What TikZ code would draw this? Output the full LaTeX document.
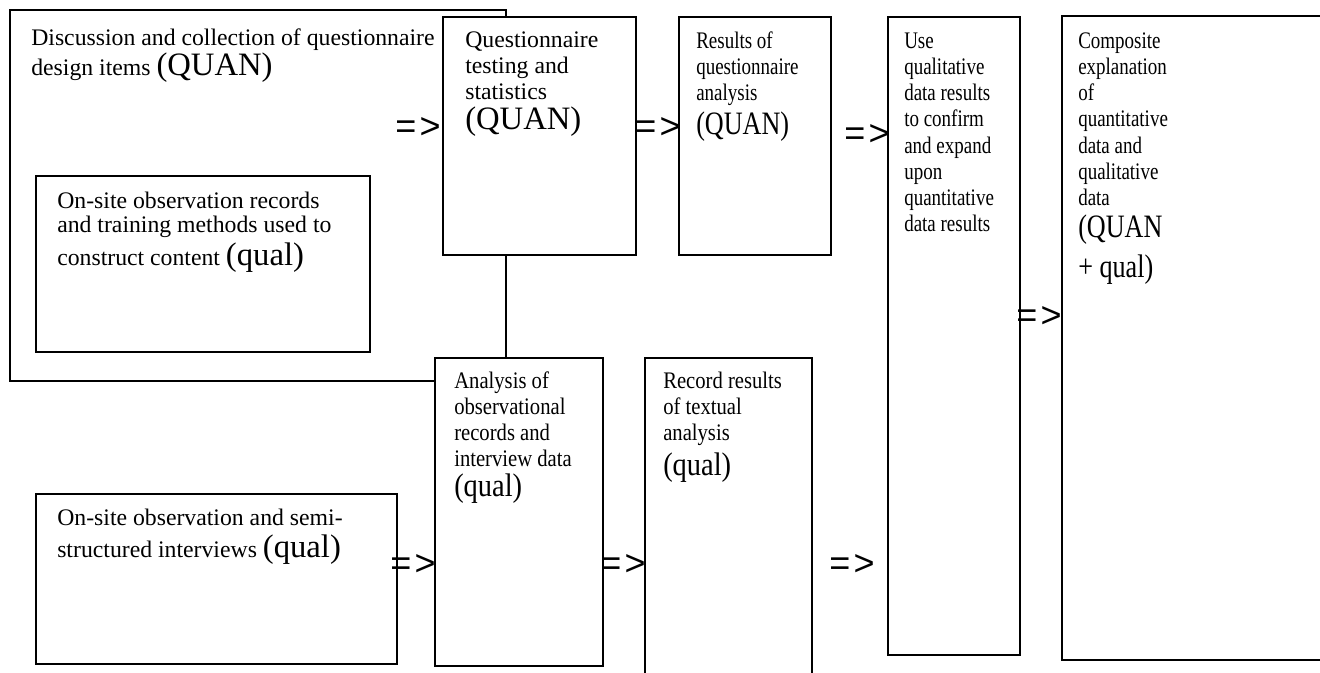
\documentclass[tikz,border=0pt]{standalone}
\usepackage{fontspec}
\usepackage{graphicx}
\setmainfont{Liberation Serif}
\newfontfamily\arrfont{Liberation Sans}
\usetikzlibrary{fit}
\newcommand\normtext{\fontsize{17.8}{19.7}\selectfont\lineskiplimit=-100pt\relax}
\newcommand\bigtxt[1]{{\fontsize{24.5}{19.7}\selectfont #1}}
\newcommand\condtxt[2]{\scalebox{#1}[1]{\parbox[t]{400pt}{\raggedright #2}}}
\tikzset{
  box/.style={draw, line width=0.9pt, fill=white, inner sep=0pt},
  ctxt/.style={anchor=base west, inner sep=0pt, font=\normtext},
  arr/.style={font=\arrfont\fontsize{27}{27}\selectfont, inner sep=0pt}
}
\newcommand\arrsym{=\kern2.5pt>}
\begin{document}
\begin{tikzpicture}[x=0.75pt,y=-0.75pt]
\useasboundingbox (0,0) rectangle (1320,672);
% boxes
\node[box, fit={(10,10) (506,381)}] (outer) {};
\node[box, fit={(36,176) (370,352)}] (inner) {};
\node[box, fit={(443,17) (636,255)}] (q) {};
\node[box, fit={(679,17) (831,255)}] (res) {};
\node[box, fit={(888,17) (1020,655)}] (use) {};
\node[box, fit={(1062,16) (1340,660)}] (comp) {};
\node[box, fit={(36,494) (397,664)}] (semi) {};
\node[box, fit={(435,358) (603,666)}] (ana) {};
\node[box, fit={(645,358) (812,700)}] (rec) {};
% texts
\node[ctxt] (touter) at (31,45) {\condtxt{1}{Discussion and collection of questionnaire\\[0.8pt]design items \bigtxt{(QUAN)}}};
\node[ctxt] (tinner) at (57,208) {\condtxt{1}{On-site observation records\\[-1pt]and training methods used to\\[2.8pt]construct content \bigtxt{(qual)}}};
\node[ctxt] (tq) at (465,47) {\condtxt{1}{Questionnaire\\testing and\\statistics\\[2.8pt]\bigtxt{(QUAN)}}};
\node[ctxt] (tres) at (696,48) {\condtxt{0.8}{Results of\\questionnaire\\analysis\\[4pt]\bigtxt{(QUAN)}}};
\node[ctxt] (tuse) at (904,48) {\condtxt{0.8}{Use\\qualitative\\data results\\to confirm\\and expand\\upon\\quantitative\\data results}};
\node[ctxt] (tcomp) at (1078,48) {\condtxt{0.8}{Composite\\explanation\\of\\quantitative\\data and\\qualitative\\data\\[4.3pt]\bigtxt{(QUAN}\\[6.5pt]\bigtxt{+ qual)}}};
\node[ctxt] (tsemi) at (57,525) {\condtxt{1}{On-site observation and semi-\\[5pt]structured interviews \bigtxt{(qual)}}};
\node[ctxt] (tana) at (454,388) {\condtxt{0.87}{Analysis of\\observational\\records and\\interview data\\[2.8pt]\bigtxt{(qual)}}};
\node[ctxt] (trec) at (663,388) {\condtxt{0.87}{Record results\\of textual\\analysis\\[4.3pt]\bigtxt{(qual)}}};
% arrows
\node[arr] (a1) at (418,128) {\arrsym};
\node[arr] (a2) at (658,128) {\arrsym};
\node[arr] (a3) at (867,135) {\arrsym};
\node[arr] (a4) at (1039,317) {\arrsym};
\node[arr] (a5) at (413,565) {\arrsym};
\node[arr] (a6) at (623,565) {\arrsym};
\node[arr] (a7) at (852,565) {\arrsym};
\end{tikzpicture}
\end{document}
